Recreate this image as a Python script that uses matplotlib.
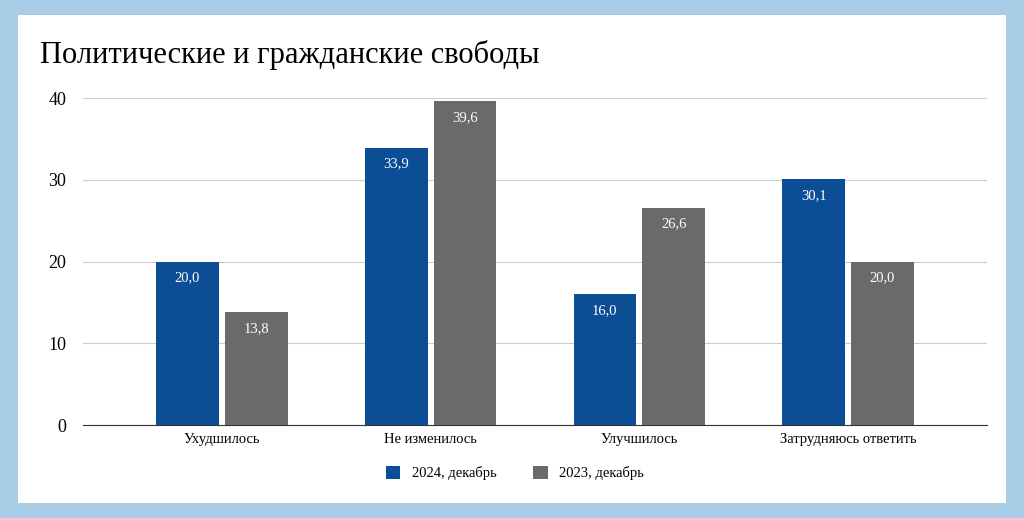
import matplotlib.pyplot as plt
from matplotlib.patches import Rectangle
import numpy as np

categories = ['Ухудшилось', 'Не изменилось', 'Улучшилось', 'Затрудняюсь ответить']
values_2024 = [20.0, 33.9, 16.0, 30.1]
values_2023 = [13.8, 39.6, 26.6, 20.0]
series_names = ['2024, декабрь', '2023, декабрь']

plt.rcParams['font.family'] = 'Liberation Serif'
W, H = 1024, 518
fig = plt.figure(figsize=(W / 100, H / 100), dpi=100)
fig.patch.set_facecolor('#a9cde6')
fig.add_artist(Rectangle((18 / W, 15 / H), 988 / W, 488 / H, transform=fig.transFigure,
                         facecolor='white', edgecolor='none', zorder=0))

ax = fig.add_axes([83 / W, 1 - 425 / H, 904 / W, 327 / H])
ax.set_facecolor('none')
x = np.arange(len(categories))
w = 0.30
off = 0.165
b1 = ax.bar(x - off, values_2024, w, color='#0c4e96', label=series_names[0], zorder=3)
b2 = ax.bar(x + off, values_2023, w, color='#6a6a6a', label=series_names[1], zorder=3)
for bars in (b1, b2):
    for r in bars:
        v = r.get_height()
        ax.text(r.get_x() + r.get_width() / 2, v - 1.2, f'{v:.1f}'.replace('.', ','),
                ha='center', va='top', color='white', fontsize=10.5, zorder=4)

ax.set_xlim(-0.666, 3.666)
ax.set_ylim(0, 40)
ax.set_yticks([0, 10, 20, 30, 40])
ax.yaxis.grid(True, color='#cccccc', linewidth=0.8, zorder=0)
ax.set_xticks(x)
ax.set_xticklabels(categories, fontsize=10.5)
ax.tick_params(axis='y', labelsize=13, length=0, pad=12)
ax.tick_params(axis='x', length=0, pad=6)
for s in ['top', 'right', 'left']:
    ax.spines[s].set_visible(False)
ax.spines['bottom'].set_color('#333333')

fig.text(40 / W, 1 - 55 / H, 'Политические и гражданские свободы', fontsize=22,
         va='center', ha='left')
fig.legend(loc='center', bbox_to_anchor=(515 / W, 1 - 473 / H), ncol=2, frameon=False,
           fontsize=10.5, handlelength=1.0, handleheight=1.0, columnspacing=2.5)

fig.savefig('out.png', dpi=100, facecolor=fig.get_facecolor())
